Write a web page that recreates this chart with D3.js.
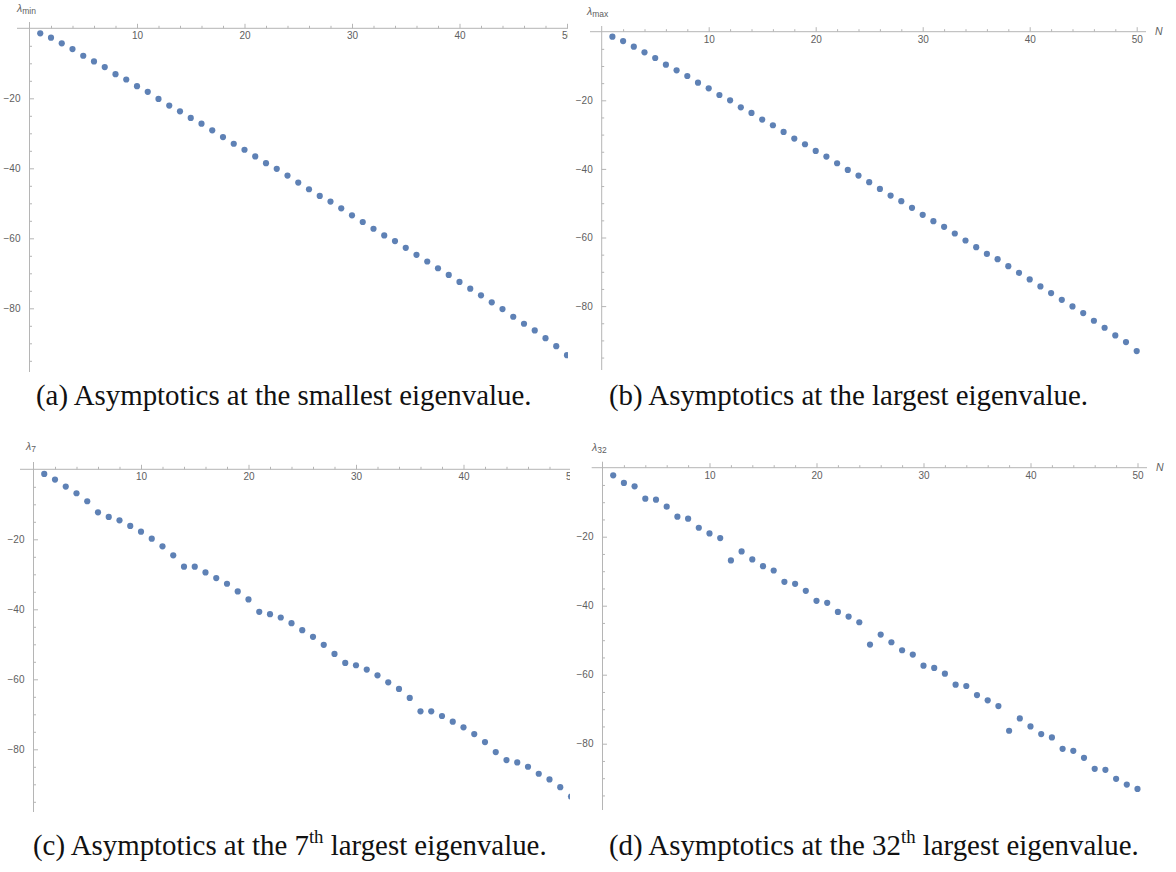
<!DOCTYPE html>
<html><head><meta charset="utf-8">
<script src="https://cdn.jsdelivr.net/npm/d3@7"></script>
<style>body{margin:0;background:#fff} svg{display:block}</style>
</head><body>
<svg id="chart" width="1176" height="872"></svg>
<script>
// ---------- data ----------
const Nvals = d3.range(1, 51);
const lambdaMin = [-1.43,-2.68,-4.30,-5.93,-7.84,-9.46,-11.09,-13.10,-14.63,-16.54,-18.16,-20.17,-22.08,-23.71,-25.62,-27.25,-29.16,-31.07,-32.98,-34.70,-36.62,-38.53,-40.15,-42.07,-44.07,-45.98,-47.90,-49.52,-51.43,-53.44,-55.35,-57.27,-59.18,-60.80,-62.72,-64.72,-66.63,-68.55,-70.46,-72.47,-74.38,-76.29,-78.30,-80.21,-82.41,-84.42,-86.33,-88.53,-90.82,-93.40];
const lambdaMax = [-1.46,-2.72,-4.37,-6.02,-7.67,-9.61,-11.26,-12.91,-14.85,-16.50,-18.45,-20.00,-22.04,-23.69,-25.63,-27.28,-29.22,-31.17,-32.82,-34.76,-36.41,-38.35,-40.29,-41.94,-43.88,-45.83,-47.77,-49.42,-51.36,-53.40,-55.24,-56.89,-58.83,-60.87,-62.82,-64.76,-66.31,-68.35,-70.29,-72.23,-74.27,-76.21,-78.16,-80.10,-82.04,-84.27,-86.31,-88.54,-90.49,-93.11];
const lambda7 = [-1.31,-2.93,-4.93,-6.84,-9.13,-12.28,-13.62,-14.57,-16.19,-17.81,-19.82,-22.01,-24.59,-27.83,-27.83,-29.46,-31.08,-32.70,-34.90,-37.19,-40.72,-41.38,-42.34,-43.96,-45.96,-47.87,-50.16,-52.74,-55.31,-55.98,-57.22,-58.85,-60.85,-62.76,-65.33,-69.15,-69.15,-70.49,-72.11,-73.73,-75.64,-77.93,-80.79,-83.08,-83.75,-84.99,-86.99,-88.62,-90.81,-93.48];
const lambda32 = [-2.20,-4.42,-5.39,-8.97,-9.26,-11.30,-14.20,-14.78,-17.40,-19.04,-20.40,-26.88,-24.27,-26.59,-28.53,-29.79,-33.08,-33.66,-35.69,-38.60,-39.18,-41.79,-43.15,-44.79,-51.28,-48.37,-50.60,-52.92,-54.18,-57.38,-58.05,-59.70,-62.89,-63.28,-65.90,-67.44,-69.09,-76.25,-72.67,-75.00,-77.22,-78.19,-81.48,-82.06,-84.09,-87.29,-87.58,-90.19,-91.84,-93.10];
const xMajorTicks = [10, 20, 30, 40, 50];
const xMinorTicks = d3.range(2, 51, 2).filter(v => v % 10 !== 0);
const yMajorTicks = [-20, -40, -60, -80];
const yMinorTicks = d3.range(-5, -100, -5).filter(v => v % 20 !== 0);
const subscripts = ["min", "max", "7", "32"];
const captionPre = ["(a) Asymptotics at the smallest eigenvalue.", "(b) Asymptotics at the largest eigenvalue.", "(c) Asymptotics at the 7", "(d) Asymptotics at the 32"];
const captionSup = ["", "", "th", "th"];
const captionPost = ["", "", " largest eigenvalue.", " largest eigenvalue."];

// ---------- layout ----------
const series = [lambdaMin, lambdaMax, lambda7, lambda32];
const layout = [
  {ox:29.5, kx:10.75, oy:28.3, ky:3.5,  cx0:0,   cx1:568,  cy0:0,   axL:17,  yTop:22,  yBot:372, showN:false, lx:17,  ly:12, capX:36,  capY:405},
  {ox:601.7,kx:10.7,  oy:31.7, ky:3.43, cx0:574, cx1:1176, cy0:0,   axL:590, yTop:26,  yBot:370, showN:true,  axR:1146, lx:587, ly:15, capX:609, capY:405},
  {ox:33.5, kx:10.75, oy:469.3,ky:3.5,  cx0:0,   cx1:570,  cy0:436, axL:20,  yTop:462, yBot:812, showN:false, lx:26,  ly:450, capX:33, capY:855},
  {ox:602.5,kx:10.7,  oy:467.7,ky:3.45, cx0:574, cx1:1176, cy0:436, axL:591.7,yTop:461.7,yBot:810, showN:true, axR:1147, lx:592, ly:451, capX:609, capY:855}
];
const axisColor = "#b5b5b5";
const textColor = "#606060";
const dotColor = "#5e81b5";

const svg = d3.select("#chart");
const defs = svg.append("defs");

layout.forEach((L, i) => {
  const x = d3.scaleLinear().domain([0, 50]).range([L.ox, L.ox + 50 * L.kx]);
  const y = d3.scaleLinear().domain([0, -100]).range([L.oy, L.oy + 100 * L.ky]);
  const clipId = "clip" + i;
  defs.append("clipPath").attr("id", clipId).append("rect")
    .attr("x", L.cx0).attr("y", L.cy0).attr("width", L.cx1 - L.cx0).attr("height", 380);
  const g = svg.append("g").attr("clip-path", `url(#${clipId})`);

  const axR = L.axR !== undefined ? L.axR : L.cx1 + 5;
  g.append("line").attr("x1", L.axL).attr("x2", axR).attr("y1", L.oy).attr("y2", L.oy)
    .attr("stroke", axisColor).attr("stroke-width", 1);
  g.append("line").attr("x1", L.ox).attr("x2", L.ox).attr("y1", L.yTop).attr("y2", L.yBot)
    .attr("stroke", axisColor).attr("stroke-width", 1);

  const xMaj = g.append("g").attr("transform", `translate(0,${L.oy})`)
    .call(d3.axisBottom(x).tickValues(xMajorTicks).tickSizeInner(-4.5).tickSizeOuter(0).tickPadding(4).tickFormat(d3.format("d")));
  const xMin = g.append("g").attr("transform", `translate(0,${L.oy})`)
    .call(d3.axisBottom(x).tickValues(xMinorTicks).tickSizeInner(-2.5).tickSizeOuter(0).tickFormat(""));
  const yMaj = g.append("g").attr("transform", `translate(${L.ox},0)`)
    .call(d3.axisLeft(y).tickValues(yMajorTicks).tickSizeInner(-4.5).tickSizeOuter(0).tickPadding(9).tickFormat(d3.format("d")));
  const yMin = g.append("g").attr("transform", `translate(${L.ox},0)`)
    .call(d3.axisLeft(y).tickValues(yMinorTicks).tickSizeInner(-2.5).tickSizeOuter(0).tickFormat(""));
  [xMaj, xMin, yMaj, yMin].forEach(a => {
    a.select(".domain").remove();
    a.selectAll(".tick line").attr("stroke", axisColor);
    a.selectAll(".tick text").attr("fill", textColor)
      .style("font-family", "'Liberation Sans', Arial, sans-serif").style("font-size", "10px");
  });

  g.selectAll("circle.dot").data(Nvals.map((n, k) => [n, series[i][k]]))
    .enter().append("circle").attr("class", "dot")
    .attr("cx", d => x(d[0])).attr("cy", d => y(d[1])).attr("r", 3.1)
    .attr("fill", dotColor);

  const lab = svg.append("text").attr("x", L.lx).attr("y", L.ly)
    .attr("fill", textColor).style("font-family", "'Liberation Sans', Arial, sans-serif");
  lab.append("tspan").text("λ").style("font-size", "10.5px").style("font-style", "italic");
  lab.append("tspan").text(subscripts[i]).style("font-size", "8.5px").attr("dy", 2);

  if (L.showN) {
    svg.append("text").attr("x", axR + 9).attr("y", L.oy + 3.5).text("N")
      .attr("fill", textColor).style("font-family", "'Liberation Sans', Arial, sans-serif")
      .style("font-size", "10.5px").style("font-style", "italic");
  }
});

// captions
const capFont = "'Liberation Serif', 'Times New Roman', serif";
const caps = [];
layout.forEach((L, i) => {
  const t = svg.append("text").attr("x", L.capX).attr("y", L.capY)
    .attr("fill", "#111").style("font-family", capFont).style("font-size", "20px");
  t.append("tspan").text(captionPre[i]);
  if (captionSup[i]) {
    t.append("tspan").text(captionSup[i]).style("font-size", "13px").attr("dy", -8);
    t.append("tspan").text(captionPost[i]).attr("dy", 8);
  }
  caps.push(t);
});
// scale caption font so caption (d) spans its reference width
const wD = caps[3].node().getComputedTextLength();
const fs = 20 * 530 / wD;
caps.forEach(t => {
  t.style("font-size", fs + "px");
  t.selectAll("tspan").each(function(d, k) {
    const s = d3.select(this);
    if (s.text() === "th") s.style("font-size", (fs * 0.65) + "px").attr("dy", -fs * 0.4);
    else if (k === 2) s.attr("dy", fs * 0.4);
  });
});
</script>
</body></html>
